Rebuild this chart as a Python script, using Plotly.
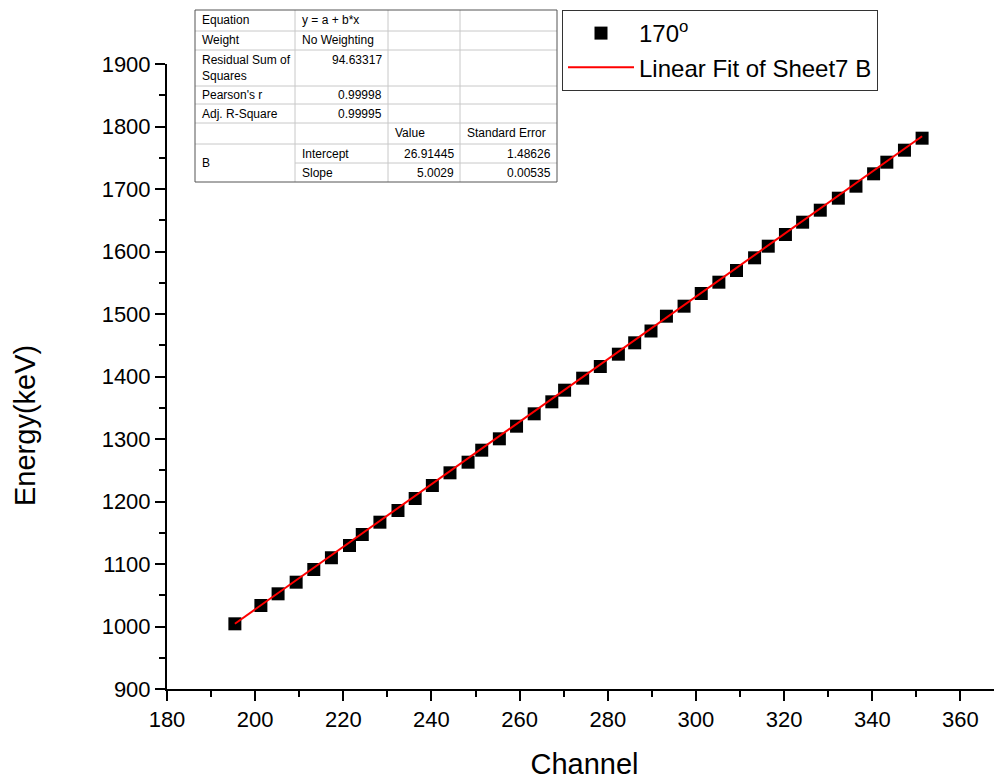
import plotly.graph_objects as go

# ---------------- data ----------------
channel = [195.4, 201.3, 205.2, 209.3, 213.3, 217.3, 221.4, 224.3, 228.3, 232.4,
           236.3, 240.2, 244.2, 248.3, 251.4, 255.4, 259.3, 263.3, 267.3, 270.2,
           274.3, 278.3, 282.4, 286.1, 289.8, 293.3, 297.3, 301.2, 305.2, 309.2,
           313.3, 316.4, 320.3, 324.2, 328.2, 332.3, 336.3, 340.3, 343.3, 347.3,
           351.3]
energy = [1004.3, 1033.6, 1052.3, 1070.9, 1091.2, 1110.0, 1129.6, 1147.2, 1166.9, 1185.6,
          1204.8, 1225.6, 1245.9, 1262.9, 1282.1, 1300.3, 1320.5, 1340.3, 1359.5, 1378.1,
          1397.3, 1416.0, 1435.7, 1453.9, 1472.8, 1496.5, 1512.5, 1532.8, 1550.9, 1569.6,
          1589.9, 1608.5, 1627.2, 1646.9, 1666.1, 1685.3, 1704.5, 1724.3, 1742.9, 1762.1,
          1781.3]
fit_intercept = 26.91445
fit_slope = 5.0029
x_ticks = [180, 200, 220, 240, 260, 280, 300, 320, 340, 360]
y_ticks = [900, 1000, 1100, 1200, 1300, 1400, 1500, 1600, 1700, 1800, 1900]

table_rows = [
    ["Equation", "y = a + b*x", "", ""],
    ["Weight", "No Weighting", "", ""],
    ["Residual Sum of<br>Squares", "94.63317", "", ""],
    ["Pearson's r", "0.99998", "", ""],
    ["Adj. R-Square", "0.99995", "", ""],
    ["", "", "Value", "Standard Error"],
    ["B", "Intercept", "26.91445", "1.48626"],
    ["", "Slope", "5.0029", "0.00535"],
]

# ---------------- layout geometry ----------------
OFF = 8                      # page body margin of the browser
W, H = 1002 - OFF, 780 - OFF
ML, MT = 167 - OFF, 64 - OFF
PW, PH = 835, 625
FONT = "Liberation Sans, Arial, sans-serif"


def px(x):
    # x in screenshot pixels -> paper coordinates
    return (x - OFF - ML) / PW


def py(y):
    return (MT + PH - (y - OFF)) / PH


fit_x = [min(channel), max(channel)]
fit_y = [fit_intercept + fit_slope * v for v in fit_x]

fig = go.Figure()
fig.add_trace(go.Scatter(
    x=channel, y=energy, mode="markers", name="170<sup>o</sup>",
    marker=dict(symbol="square", size=13, color="black", line=dict(width=0)),
))
fig.add_trace(go.Scatter(
    x=fit_x, y=fit_y, mode="lines", name="Linear Fit of Sheet7 B",
    line=dict(color="#ff0000", width=2),
))

# ---------------- table (shapes + text) ----------------
shapes = []
annos = []
col_x = [195, 295, 388, 460, 557]
row_y = [10, 31, 50, 86, 104, 123, 144, 163, 182]
grid = "#c8c8c8"
for i, yy in enumerate(row_y[1:-1], start=1):
    x0 = col_x[0] if i != 7 else col_x[1]
    shapes.append(dict(type="line", xref="paper", yref="paper",
                       x0=px(x0), x1=px(col_x[-1]), y0=py(yy), y1=py(yy),
                       line=dict(color=grid, width=1)))
for xx in col_x[1:-1]:
    shapes.append(dict(type="line", xref="paper", yref="paper",
                       x0=px(xx), x1=px(xx), y0=py(row_y[0]), y1=py(row_y[-1]),
                       line=dict(color=grid, width=1)))
shapes.append(dict(type="rect", xref="paper", yref="paper",
                   x0=px(col_x[0]), x1=px(col_x[-1]), y0=py(row_y[-1]), y1=py(row_y[0]),
                   line=dict(color="#555555", width=1)))

tfont = dict(family=FONT, size=12, color="black")
for r, row in enumerate(table_rows):
    ytop, ybot = row_y[r], row_y[r + 1]
    for c, txt in enumerate(row):
        if not txt:
            continue
        is_num = txt.replace(".", "").isdigit()
        yc = (ytop + ybot) / 2
        if r == 2 and c == 1:
            yc = ytop + 10
        if r == 6 and c == 0:
            yc = (row_y[6] + row_y[8]) / 2
        if is_num:
            xa, anchor = col_x[c + 1] - 4, "right"
        else:
            xa, anchor = col_x[c] + 5, "left"
        annos.append(dict(xref="paper", yref="paper", x=px(xa), y=py(yc),
                          text=txt, showarrow=False, xanchor=anchor, yanchor="middle",
                          font=tfont, align="left"))

# y-axis title (placed as in the reference, slightly below the axis centre)
annos.append(dict(xref="paper", yref="paper", x=px(25), y=py(426),
                  text="Energy(keV)", showarrow=False, textangle=-90,
                  xanchor="center", yanchor="middle",
                  font=dict(family=FONT, size=29, color="black")))

fig.update_layout(
    width=W, height=H,
    margin=dict(l=ML, r=W - ML - PW, t=MT, b=H - MT - PH, pad=0),
    paper_bgcolor="white", plot_bgcolor="white",
    font=dict(family=FONT, color="black"),
    shapes=shapes, annotations=annos,
    showlegend=True,
    legend=dict(x=px(562), y=py(10), xanchor="left", yanchor="top",
                bordercolor="#333333", borderwidth=1, bgcolor="white",
                font=dict(family=FONT, size=24, color="black"),
                itemwidth=66, tracegroupgap=0),
    xaxis=dict(range=[180, 180 + PW / 4.408], tickvals=x_ticks, showgrid=False,
               zeroline=False, showline=True, linecolor="black", linewidth=2,
               ticks="outside", ticklen=10, tickwidth=2, tickcolor="black",
               tickfont=dict(family=FONT, size=22, color="black"),
               minor=dict(dtick=10, ticks="outside", ticklen=6, tickwidth=2,
                          tickcolor="black", showgrid=False),
               title=dict(text="Channel", font=dict(family=FONT, size=29, color="black"),
                          standoff=27)),
    yaxis=dict(range=[900, 1900], tickvals=y_ticks, showgrid=False,
               zeroline=False, showline=True, linecolor="black", linewidth=2,
               ticks="outside", ticklen=10, tickwidth=2, tickcolor="black",
               tickfont=dict(family=FONT, size=22, color="black"),
               minor=dict(dtick=50, ticks="outside", ticklen=6, tickwidth=2,
                          tickcolor="black", showgrid=False)),
)

fig.write_html("out.html")
